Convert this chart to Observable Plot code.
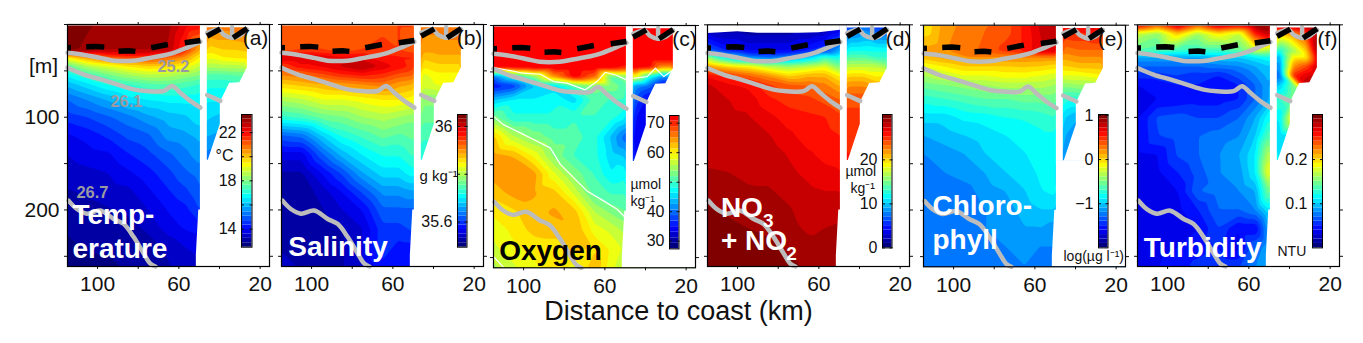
<!DOCTYPE html>
<html><head><meta charset="utf-8">
<script src="https://cdn.jsdelivr.net/npm/d3@7"></script>
<script src="https://cdn.jsdelivr.net/npm/@observablehq/plot@0.6"></script>
<style>
html,body{margin:0;padding:0;background:#fff;width:1363px;height:343px;overflow:hidden;font-family:"Liberation Sans",Arial,sans-serif}
#root{position:relative;width:1363px;height:343px}
#root svg{position:absolute;overflow:visible}
#xlabel{position:absolute;left:0;width:1357px;text-align:center;top:296px;font-size:27px;line-height:30px;color:#111}
</style></head><body><div id="root"><div id="xlabel">Distance to coast (km)</div></div>
<script>
// Depth rows (m) and station columns (km from coast)
const depths = [0,28,35,45,55,65,80,100,120,140,160,180,200,220,240,262];
const stations = [115,105,95,85,75,65,57,50,45,38,32,26];

// Each row below is one station column, listed from the surface downward.
const temperature = [
 [23.3,23.3,19.5,17.6,16.6,15.9,15.1,14.5,13.9,13.6,13.4,13.2,13,12.9,12.8,12.8],
 [23.2,23,20.5,18.5,17.2,16.4,15.5,14.7,14.1,13.8,13.5,13.3,13.1,13,12.9,12.8],
 [23,22.8,21.2,19,17.8,16.9,15.9,15,14.4,13.9,13.6,13.4,13.2,13,12.9,12.8],
 [22.9,22.8,21.5,19.5,18.3,17.2,16.4,15.3,14.8,14.3,13.9,13.5,13.3,13.1,13,12.9],
 [22.9,22.8,21.5,19.8,18.6,17.5,16.6,15.7,15,14.6,14.2,13.9,13.6,13.3,13.1,13],
 [22.9,22.7,21,19.7,18.5,17.6,16.7,16,15.6,15,14.6,14.3,14,13.8,13.3,13.2],
 [22.2,21.6,20.5,19.3,18.2,17.4,16.7,16.1,15.7,15.3,15,14.6,14.2,14,13.6,13.4],
 [22,20.2,19.5,18.7,18,17.2,16.7,16.4,15.9,15.7,15.2,15,14.7,14.1,13.7,13.5],
 [20.8,19.6,19.2,18.5,17.5,17,16.6,16.2,15.8,15.3],
 [20.8,19.8,19.5,18.6,17.5,17,16.6,16,15.7],
 [20.9,19.8,19.6,18.6,17.6,17.1,16.6],
 [20.9,19.9,19.6,18.7,17.7]
];
const salinity = [
 [35.92,35.93,36,35.94,35.9,35.86,35.8,35.73,35.62,35.56,35.53,35.52,35.52,35.52,35.53,35.54],
 [35.92,35.94,36,35.97,35.91,35.87,35.81,35.74,35.63,35.56,35.53,35.52,35.52,35.52,35.52,35.53],
 [35.92,35.94,35.99,35.98,35.93,35.88,35.83,35.76,35.68,35.62,35.57,35.54,35.53,35.52,35.52,35.53],
 [35.92,35.93,35.98,36,35.95,35.89,35.83,35.77,35.72,35.67,35.61,35.57,35.55,35.53,35.53,35.53],
 [35.92,35.94,35.98,36.02,35.96,35.9,35.84,35.79,35.74,35.7,35.66,35.61,35.57,35.55,35.55,35.55],
 [35.93,35.95,35.96,35.99,35.95,35.91,35.85,35.8,35.76,35.72,35.69,35.65,35.62,35.6,35.6,35.58],
 [35.94,35.94,35.96,35.97,35.93,35.89,35.85,35.79,35.75,35.72,35.69,35.65,35.62,35.6,35.58,35.57],
 [35.94,35.93,35.96,35.95,35.92,35.88,35.84,35.78,35.76,35.74,35.71,35.66,35.62,35.61,35.58,35.57],
 [35.91,35.89,35.87,35.85,35.82,35.82,35.78,35.76,35.74,35.72],
 [35.91,35.89,35.88,35.86,35.84,35.83,35.78,35.76,35.74],
 [35.92,35.89,35.88,35.86,35.84,35.83,35.78],
 [35.92,35.89,35.88,35.86,35.84]
];
const oxygen = [
 [72.6,72.6,72.6,72,39.5,34.9,44,53.2,62,64,64,62,60,58,57,55],
 [72.6,72.6,72.6,72,47.5,37.2,46.4,48.7,56,63,65,64,61,60,59,57],
 [72.6,72.6,72.6,72.6,53.2,44,46.4,48.7,53.2,59,64,63.5,62.5,62,60,59],
 [72.6,72.6,72.6,72.6,64.7,45.2,47.5,48.7,51,53.2,58,62,63.5,62.5,60,60],
 [72.6,72.6,72.6,72.6,72.6,51,45.2,49.8,51,49.8,53.2,57,62,63,62,58.5],
 [72.6,72.6,72.6,72.6,67,53.2,51,49.8,48.7,48.7,49.8,51,55.5,58.5,61,63],
 [72.6,72.6,72.6,72.6,51,53.2,49.8,48.7,44,45.2,46.4,49.8,53.2,57,59,58],
 [72.6,72.6,72.6,70.4,53.2,51,49.8,46.4,39.5,44,47.5,49.8,52,55,57,56],
 [72.6,72.6,72.6,72.6,59,41.8,38.3,34.9,33.8,33.8],
 [72.6,72.6,72.6,71.5,47.5,39.5,33.8,33.8,33],
 [72.6,72.6,72.6,64.7,41.8,33.8,33],
 [72.6,72.6,72.6,64.7,41.8]
];
const nitrate = [
 [1,7,16,22,26,27.5,27.6,27.7,27.8,27.9,28.4,28.8,29.5,30,30.2,30.2],
 [0.7,5,11,20,25,26.5,27.3,27.5,27.7,27.9,28.3,28.6,29,29.8,30,30.2],
 [0.7,4,8,19,23.5,26,26.9,27.4,27.7,27.9,28.1,28.4,28.9,29.3,30,30.2],
 [0.7,4,7,17,22,24.5,25.5,26.6,27.4,27.9,28,28.4,28.6,29,29.6,30.1],
 [0.7,4,8,16,20,23.5,24.8,25.8,26.5,27.2,27.5,28,28.4,28.6,29,29.7],
 [0.7,5,10,17,21,23.2,24.5,25.5,25.8,26.4,27,27.5,27.8,28.1,28.6,29],
 [1,6,13,18,21,22.5,23.8,25.3,25.7,26,26.5,27.3,27.8,28.3,28.6,29],
 [2,9,12,15,19,21,23.2,24.5,25.3,25.7,26.4,27.3,27.6,28.6,28.8,29],
 [6,12,14,17,20,22,24,24.5,25,25.2],
 [7,12,14,17,20,22,24,24.5,25],
 [5,12,13,17,19,21,24],
 [5,12,13,16,19]
];
const chlorophyll = [
 [-0.1,0.15,0.05,-0.2,-0.4,-0.55,-0.75,-0.95,-1.1,-1.2,-1.25,-1.27,-1.28,-1.25,-1.25,-1.25],
 [0.15,0.2,0.15,-0.1,-0.3,-0.5,-0.7,-0.95,-1.05,-1.15,-1.2,-1.25,-1.27,-1.25,-1.25,-1.25],
 [0.25,0.25,0.2,0,-0.2,-0.45,-0.65,-0.87,-1,-1.1,-1.15,-1.25,-1.2,-1.25,-1.25,-1.25],
 [0.3,0.35,0.2,0,-0.2,-0.4,-0.6,-0.85,-0.95,-1,-1.1,-1.15,-1.2,-1.2,-1.25,-1.25],
 [0.35,0.45,0.2,0,-0.15,-0.35,-0.6,-0.8,-0.9,-0.95,-1,-1.1,-1.15,-1.15,-1.2,-1.25],
 [0.55,0.55,0.2,0.02,-0.15,-0.35,-0.55,-0.78,-0.85,-0.9,-0.95,-1,-1.05,-1.1,-1.15,-1.2],
 [0.75,0.7,0.2,0,-0.2,-0.35,-0.55,-0.75,-0.82,-0.85,-0.87,-0.9,-1,-1.1,-1.2,-1.3],
 [0.85,0.7,0.2,-0.05,-0.25,-0.4,-0.55,-0.7,-0.82,-0.85,-0.87,-0.87,-1,-1.15,-1.2,-1.25],
 [0.6,0.25,0.15,0,-0.2,-0.45,-0.75,-1,-1.1,-1.2],
 [0.6,0.3,0.2,0.05,-0.2,-0.4,-0.75,-1.1,-1.15],
 [0.7,0.3,0.2,0.05,-0.15,-0.4,-0.75],
 [0.5,0.3,0.2,0.05,-0.1]
];
const turbidity = [
 [0.27,0.14,0.09,0.07,0.055,0.04,0.038,0.038,0.038,0.038,0.038,0.038,0.038,0.038,0.04,0.04],
 [0.24,0.135,0.09,0.07,0.055,0.045,0.04,0.062,0.06,0.04,0.038,0.038,0.038,0.038,0.038,0.04],
 [0.28,0.13,0.09,0.07,0.06,0.05,0.042,0.065,0.065,0.062,0.05,0.04,0.038,0.038,0.04,0.045],
 [0.24,0.13,0.09,0.07,0.055,0.05,0.045,0.06,0.07,0.07,0.065,0.07,0.05,0.04,0.045,0.055],
 [0.28,0.13,0.1,0.075,0.05,0.042,0.045,0.06,0.075,0.08,0.08,0.075,0.07,0.06,0.05,0.06],
 [0.27,0.14,0.1,0.08,0.065,0.05,0.05,0.07,0.08,0.09,0.085,0.08,0.07,0.04,0.035,0.06],
 [0.29,0.17,0.11,0.09,0.08,0.07,0.07,0.09,0.1,0.11,0.11,0.09,0.08,0.04,0.07,0.08],
 [0.29,0.16,0.12,0.1,0.095,0.09,0.09,0.12,0.14,0.17,0.19,0.15,0.11,0.09,0.09,0.09],
 [0.29,0.12,0.09,0.08,0.07,0.1,0.13,0.11,0.1,0.1],
 [0.28,0.16,0.19,0.22,0.25,0.15,0.15,0.2,0.11],
 [0.28,0.2,0.19,0.24,0.27,0.28,0.12],
 [0.29,0.29,0.27,0.28,0.28]
];
// Extra readings just under the surface in the turbidity panel (10 m)
const turbidity10m = [0.17,0.155,0.2,0.16,0.19,0.17,0.25,0.28,0.2,0.22,0.24,0.29];

// Isopycnals, [km, depth]
const iso252 = [[114.8,30.5],[108.5,32],[98.7,36],[92.1,39],[82.3,39],[75.7,36.6],[69.1,34],[62.6,30.5],[56,25],[49.4,18.6]];
const iso252b = [[46.1,9],[40.4,5.4],[37.9,10.8],[33.8,14.3],[30.5,12.5],[26.4,5.4]];
const iso252c = [[33.8,3],[33.8,14.3]];
const iso261 = [[114.8,46.6],[106.9,53.8],[98.7,59],[90.5,64.5],[82.3,70],[75.7,71.7],[67.5,71.7],[63.4,66.3],[59.3,73.5],[54.4,82.4],[49.4,89.6]];
const iso261b = [[46.1,76],[39.6,82.4]];
const iso267 = [[114.3,190],[110.2,199],[105.3,204],[98.7,200.7],[92.1,209.7],[87.2,215],[82.3,229],[77.3,247],[74,258],[71.5,261]];
// Mixed-layer depth, drawn as thick dashes
const mld = [
 [[114.8,25],[113.1,25]],
 [[105.6,24],[101,23.6],[96.7,24.4]],
 [[89.7,28.8],[85,28.2],[81.4,29]],
 [[73.6,25],[65.4,21.5]],
 [[57.1,19.7],[49.4,17.2]],
 [[46.1,12.5],[39.6,4.7]],
 [[33.3,14.3],[26.4,4.3]]
];
// White oxygen contours
const oxyWhite1 = [[114.8,45.4],[108.2,47.9],[100,51.4],[91.8,52.5],[85.2,60.4],[78.7,62.1],[69.6,69.3],[63.9,60.4],[59.8,50.4],[54,53.9],[49.4,58.6]];
const oxyWhite1b = [[45.8,56.8],[39.2,55],[35.1,46],[31,55],[26.4,47.9]];
const oxyWhite2 = [[114.8,97.9],[109.9,106.8],[101.6,115.7],[93.4,124.6],[86.9,131.8],[81.9,149.6],[75.4,163.9],[68.8,178.2],[60.6,188.9],[54,197.9],[49.9,206.8]];
const oxyWhite3 = [[114.5,249.6],[110,260]];

// Section outlines (depth, km)
const mainEdge = [[146.5,49.4],[200,49.4],[200,50.2],[249,51.4],[261,51.4]];
const shelfEdge = [[0,26.3],[46.6,26.3],[62.7,30],[63.4,35],[84,39.6],[107.5,39.6],[147,45.6],[147,46]];
const nitrateTop = [[114.8,9.5],[108,8.5],[100,7.5],[90,9],[80,9],[70,9],[60,8.5],[49.4,6]];
const defaultTop = [[114.8,1.5],[49.4,1.5]];

const jet = t => {
  const c = x => Math.round(255*Math.max(0,Math.min(1,x)));
  return `rgb(${c(1.5-Math.abs(4*t-3))},${c(1.5-Math.abs(4*t-2))},${c(1.5-Math.abs(4*t-1))})`;
};
const jetRed = t => jet(t*0.875);

const tickKm = [100,80,60,40,20];
const labelKm = [100,60,20];
const tickDepth = [0,50,100,150,200,250];
const fontFamily = '"Liberation Sans",Arial,sans-serif';
const noLabel = () => "";
const plainLabel = d => String(d).replace("-","−");

const panels = [
 {letter:"(a)",vals:temperature,left:67.3,top:24,bottom:266,dom:[12.5,23.5],pal:jet,bands:30,letterX:188,
  titles:[["Temp-",5,191,"white"],["erature",5,225,"white"]],
  bar:{x:241,w:10.5,y:114,h:132.7,ticks:[22,20,18,16,14],labels:[22,18,14]},
  notes:[["°C",148,131,16,"#111"]],yLabels:true},
 {letter:"(b)",vals:salinity,left:280.7,top:24,bottom:266,dom:[35.495,36.05],pal:jet,bands:30,letterX:188,
  titles:[["Salinity",6.7,222.7,"white"]],
  bar:{x:456.7,w:9.5,y:114,h:132.7,ticks:[36,35.8,35.6],labels:[36,35.6]},
  notes:[["g kg⁻¹",138,152,15,"#111"]]},
 {letter:"(c)",vals:oxygen,left:493.3,top:25,bottom:267.3,dom:[27.4,72.6],pal:jetRed,bands:24,letterX:191,
  titles:[["Oxygen",5.7,225.7,"black"]],
  bar:{x:669.3,w:9.5,y:115.3,h:133.4,ticks:[70,60,50,40,30],labels:[70,60,40,30]},
  notes:[["µmol",137,159,14,"#111"],["kg⁻¹",137,176,14,"#111"]],white:true},
 {letter:"(d)",vals:nitrate,left:707.3,top:24.3,bottom:266,dom:[0,30.3],pal:jet,bands:30,letterX:191,top2:nitrateTop,
  titles:[["NO",13.4,183,"white"],["+ NO",13.4,216,"white"],["3",55.4,196,"white",19],["2",78.7,229,"white",19]],
  bar:{x:882.3,w:9.5,y:114.3,h:133.4,ticks:[20,10,0],labels:[20,10,0]},
  notes:[["µmol",138,147,14,"#111"],["kg⁻¹",143,164,14,"#111"]]},
 {letter:"(e)",vals:chlorophyll,left:922.7,top:24.7,bottom:266.3,dom:[-2,1.02],pal:jet,bands:30,letterX:187,
  titles:[["Chloro-",9,181,"white"],["phyll",9,215,"white"]],
  bar:{x:1098.3,w:9.5,y:114.3,h:133.4,ticks:[1,0,-1],labels:[1,0,-1]},
  notes:[["log(µg l⁻¹)",140,231,14,"#111"]]},
 {letter:"(f)",vals:turbidity,left:1136.7,top:24.3,bottom:266,dom:[0,0.302],pal:jet,bands:30,letterX:190,near:turbidity10m,
  titles:[["Turbidity",6.3,223.7,"white"]],
  bar:{x:1311.7,w:10,y:114.3,h:133.4,ticks:[0.2,0.1],labels:[0.2,0.1]},
  notes:[["NTU",140,227,14,"#111"]]}
];

const pairs = (arr,z) => arr.map(([km,d]) => ({km,d,z}));
const root = document.getElementById("root");
const ml = 62, frameW = 202;

for (const p of panels) {
  const table = p.vals.flatMap((col,i) => col.map((v,j) => ({km:stations[i],depth:depths[j],v})));
  if (p.near) p.near.forEach((v,i) => table.push({km:stations[i],depth:10,v}));
  const thresholds = d3.range(p.bands).map(i => p.dom[0] + (p.dom[1]-p.dom[0])*i/p.bands);
  const colorOpt = {type:"linear",domain:[thresholds[0],thresholds[p.bands-1]],interpolate:p.pal,clamp:true};
  const grayLines = [...pairs(iso252,"a"),...pairs(iso252b,"b"),...pairs(iso261,"d"),...pairs(iso261b,"e"),...pairs(iso267,"f")];
  const dashes = mld.flatMap((seg,i) => pairs(seg,i));
  const gapUpper = [{d:0,a:49.4,b:46},{d:147,a:49.4,b:46}];
  const gapLower = mainEdge.map(([d,km]) => ({d,a:km,b:15}));
  const shelfMask = shelfEdge.map(([d,km]) => ({d,a:km,b:15}));
  const top = (p.top2||defaultTop).map(([km,d]) => ({km,d}));
  const marks = [
    Plot.contour(table,{x:"km",y:"depth",fill:"v",interpolate:"barycentric",thresholds,pixelSize:1,blur:1}),
    Plot.areaX(gapUpper,{y:"d",x1:"a",x2:"b",fill:"white"}),
    Plot.areaX(gapLower,{y:"d",x1:"a",x2:"b",fill:"white"}),
    Plot.areaX(shelfMask,{y:"d",x1:"a",x2:"b",fill:"white"}),
    Plot.areaY(top,{x:"km",y1:0,y2:"d",fill:"white"}),
    Plot.areaY([{km:46,d:3.5},{km:15,d:3.5}],{x:"km",y1:0,y2:"d",fill:"white"})
  ];
  if (p.white) for (const [i,l] of [oxyWhite1,oxyWhite1b,oxyWhite2,oxyWhite3].entries())
    marks.push(Plot.line(pairs(l,i),{x:"km",y:"d",stroke:"white",strokeWidth:1.2}));
  marks.push(
    Plot.line(grayLines,{x:"km",y:"d",z:"z",stroke:"#bcbcbc",strokeWidth:4.5,curve:"catmull-rom"}),
    Plot.line(pairs(iso252c,"c"),{x:"km",y:"d",stroke:"#bcbcbc",strokeWidth:4.5}),
    Plot.line(dashes,{x:"km",y:"d",z:"z",stroke:"black",strokeWidth:5.5,strokeLinecap:"butt"})
  );
  if (p.letter==="(a)") marks.push(
    Plot.text(["25.2"],{frameAnchor:"top-left",dx:106,dy:42,text:d=>d,fill:"#9a9aa2",fontSize:16.5,fontWeight:"bold",textAnchor:"middle",lineAnchor:"middle"}),
    Plot.text(["26.1"],{frameAnchor:"top-left",dx:59,dy:77,text:d=>d,fill:"#9a9aa2",fontSize:16.5,fontWeight:"bold",textAnchor:"middle",lineAnchor:"middle"}),
    Plot.text(["26.7"],{frameAnchor:"top-left",dx:25,dy:168,text:d=>d,fill:"#9a9aa2",fontSize:16.5,fontWeight:"bold",textAnchor:"middle",lineAnchor:"middle"}),
    Plot.text(["[m]"],{frameAnchor:"top-left",dx:-24,dy:42,text:d=>d,fill:"#111",fontSize:21,textAnchor:"middle",lineAnchor:"middle"})
  );
  for (const [t,dx,dy,fill,fs] of p.titles)
    marks.push(Plot.text([t],{frameAnchor:"top-left",dx,dy,text:d=>d,fill,fontSize:fs||28,fontWeight:"bold",textAnchor:"start",lineAnchor:"middle"}));
  for (const [t,dx,dy,fs,fill] of p.notes)
    marks.push(Plot.text([t],{frameAnchor:"top-left",dx,dy,text:d=>d,fill,fontSize:fs,textAnchor:"start",lineAnchor:"middle"}));
  marks.push(
    Plot.text([p.letter],{frameAnchor:"top-left",dx:p.letterX,dy:14,text:d=>d,fill:"#111",fontSize:21,textAnchor:"middle",lineAnchor:"middle"}),
    Plot.axisX({anchor:"bottom",ticks:tickKm,tickSize:3,tickPadding:7,label:null,tickFormat:d=>labelKm.includes(d)?String(d):""}),
    Plot.axisX({anchor:"top",ticks:tickKm,tickSize:3,label:null,tickFormat:noLabel}),
    Plot.axisY({anchor:"left",ticks:tickDepth,tickSize:3,tickPadding:5,label:null,tickFormat:p.yLabels?(d=>(d===100||d===200)?String(d):""):noLabel}),
    Plot.axisY({anchor:"right",ticks:tickDepth,tickSize:3,label:null,tickFormat:noLabel}),
    Plot.frame({stroke:"black",strokeWidth:1.2})
  );
  const chart = Plot.plot({
    width:ml+frameW+12,height:p.bottom+40,marginLeft:ml,marginRight:12,marginTop:p.top,marginBottom:40,
    x:{domain:[114.8,15.4]},y:{domain:[0,261],reverse:true},color:colorOpt,
    style:{background:"transparent",fontFamily,fontSize:"21px",color:"#111"},
    marks
  });
  chart.style.left = (p.left-ml)+"px"; chart.style.top = "0px";
  root.appendChild(chart);

  // Colour bar, on its own value scale
  const b = p.bar, lm = 50;
  const levels = thresholds.map((t,i) => ({y1:t,y2:i+1<thresholds.length?thresholds[i+1]:p.dom[1],t}));
  const bar = Plot.plot({
    width:lm+b.w+1,height:b.h+2,marginLeft:lm,marginRight:1,marginTop:1,marginBottom:1,
    x:{axis:null,domain:[0,1]},y:{domain:p.dom,label:null,axis:null},color:colorOpt,
    style:{background:"transparent",fontFamily,fontSize:"16px",color:"#111"},
    marks:[
      Plot.rect(levels,{x1:0,x2:1,y1:"y1",y2:"y2",fill:"t"}),
      Plot.axisY({anchor:"left",ticks:b.labels,tickSize:0,tickPadding:5,label:null,tickFormat:plainLabel}),
      Plot.axisY({anchor:"right",ticks:b.ticks,tickSize:-3,label:null,tickFormat:noLabel}),
      Plot.axisY({anchor:"left",ticks:b.ticks,tickSize:-3,label:null,tickFormat:noLabel}),
      Plot.frame({stroke:"black",strokeWidth:1})
    ]
  });
  bar.style.left = (b.x-lm)+"px"; bar.style.top = (b.y-1)+"px";
  root.appendChild(bar);
}
</script></body></html>
